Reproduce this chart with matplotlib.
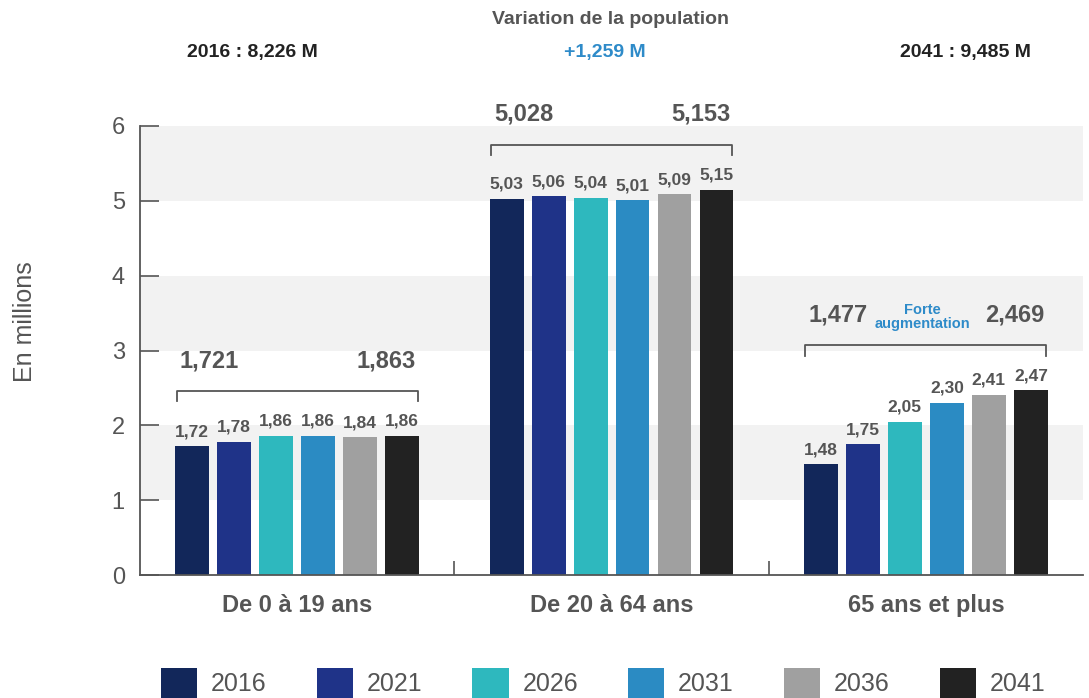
import matplotlib
matplotlib.use("Agg")
import matplotlib.pyplot as plt
from matplotlib.patches import Patch
import numpy as np

plt.rcParams['font.family'] = ['Liberation Sans Narrow', 'Liberation Sans', 'DejaVu Sans']

# ---- données ----
groupes = ["De 0 à 19 ans", "De 20 à 64 ans", "65 ans et plus"]
annees = ["2016", "2021", "2026", "2031", "2036", "2041"]
couleurs = ["#12275a", "#1f3388", "#2eb8be", "#2b8bc3", "#a0a0a0", "#222222"]
valeurs = [
    [1.72, 5.03, 1.48],   # 2016
    [1.78, 5.06, 1.75],   # 2021
    [1.86, 5.04, 2.05],   # 2026
    [1.86, 5.01, 2.30],   # 2031
    [1.84, 5.09, 2.41],   # 2036
    [1.86, 5.15, 2.47],   # 2041
]
debut_lbl = ["1,721", "5,028", "1,477"]
fin_lbl = ["1,863", "5,153", "2,469"]
total_2016 = "2016 : 8,226 M"
total_2041 = "2041 : 9,485 M"
variation = "+1,259 M"

GRIS = "#555555"
BLEU = "#2e8bc9"

fig = plt.figure(figsize=(10.89, 6.98), dpi=100)
ax = fig.add_axes([0.1286, 0.1762, 0.8659, 0.6433])

x = np.arange(len(groupes))
pas = 0.1336
larg = 0.108

# bandes grises
for lo in (1, 3, 5):
    ax.axhspan(lo, lo + 1, color="#f2f2f2", zorder=0, lw=0)

for i, (an, c) in enumerate(zip(annees, couleurs)):
    pos = x + (i - 2.5) * pas
    ax.bar(pos, valeurs[i], width=larg, color=c, zorder=2, label=an)
    for px, v in zip(pos, valeurs[i]):
        ax.annotate(f"{v:.2f}".replace(".", ","), (px, v), xytext=(0, 5),
                    textcoords="offset points", ha="center", va="bottom",
                    fontsize=12.5, fontweight="bold", color=GRIS, zorder=3)

# accolades + valeurs début / fin
for g in range(len(groupes)):
    vmax = max(valeurs[i][g] for i in range(len(annees)))
    y_b = vmax + 0.60
    xl = x[g] - 2.5 * pas - larg / 2 + 0.005
    xr = x[g] + 2.5 * pas + larg / 2 - 0.005
    ax.plot([xl, xl, xr, xr], [y_b - 0.14, y_b, y_b, y_b - 0.14],
            color=GRIS, lw=1.3, zorder=3, clip_on=False)
    ax.text(xl + 0.01, y_b + 0.25, debut_lbl[g], ha="left", va="bottom",
            fontsize=17, fontweight="bold", color=GRIS, clip_on=False)
    ax.text(xr - 0.005, y_b + 0.25, fin_lbl[g], ha="right", va="bottom",
            fontsize=17, fontweight="bold", color=GRIS, clip_on=False)

ax.text(x[2] - 0.01, 3.45, "Forte\naugmentation", ha="center", va="center",
        fontsize=10.5, fontweight="bold", color=BLEU, linespacing=0.95)

# axes
ax.set_xlim(-0.5, 2.5)
ax.set_ylim(0, 6)
ax.set_yticks(range(0, 7))
ax.tick_params(axis="y", direction="in", length=14, width=1.2, color=GRIS,
               labelsize=17, labelcolor=GRIS, pad=11)
ax.set_xticks(x)
ax.set_xticklabels(groupes, fontsize=17, fontweight="bold", color=GRIS)
ax.tick_params(axis="x", length=0, pad=14)
ax.set_xticks([0.5, 1.5], minor=True)
ax.tick_params(axis="x", which="minor", direction="in", length=10, width=1.2, color=GRIS)
for s in ("top", "right"):
    ax.spines[s].set_visible(False)
for s in ("left", "bottom"):
    ax.spines[s].set_color(GRIS)
    ax.spines[s].set_linewidth(1.3)
    ax.spines[s].set_zorder(4)

fig.text(25 / 1089, 0.539, "En millions", rotation=90, ha="center", va="center",
         fontsize=18, color=GRIS)

# en-tête
fig.text(610 / 1089, 1 - 19 / 698, "Variation de la population", ha="center", va="center",
         fontsize=14, fontweight="bold", color=GRIS)
fig.text(252 / 1089, 1 - 52 / 698, total_2016, ha="center", va="center",
         fontsize=14, fontweight="bold", color="#222222")
fig.text(605 / 1089, 1 - 52 / 698, variation, ha="center", va="center",
         fontsize=14, fontweight="bold", color=BLEU)
fig.text(965 / 1089, 1 - 52 / 698, total_2041, ha="center", va="center",
         fontsize=14, fontweight="bold", color="#222222")

# légende
poignees = [Patch(facecolor=c, label=a) for a, c in zip(annees, couleurs)]
leg = fig.legend(handles=poignees, loc="center", ncol=6, frameon=False,
                 bbox_to_anchor=(0.554, 0.0215), fontsize=18,
                 handlelength=1.45, handleheight=1.45, handletextpad=0.55,
                 columnspacing=2.0)
for t in leg.get_texts():
    t.set_color(GRIS)

fig.savefig("out.png", dpi=100)
